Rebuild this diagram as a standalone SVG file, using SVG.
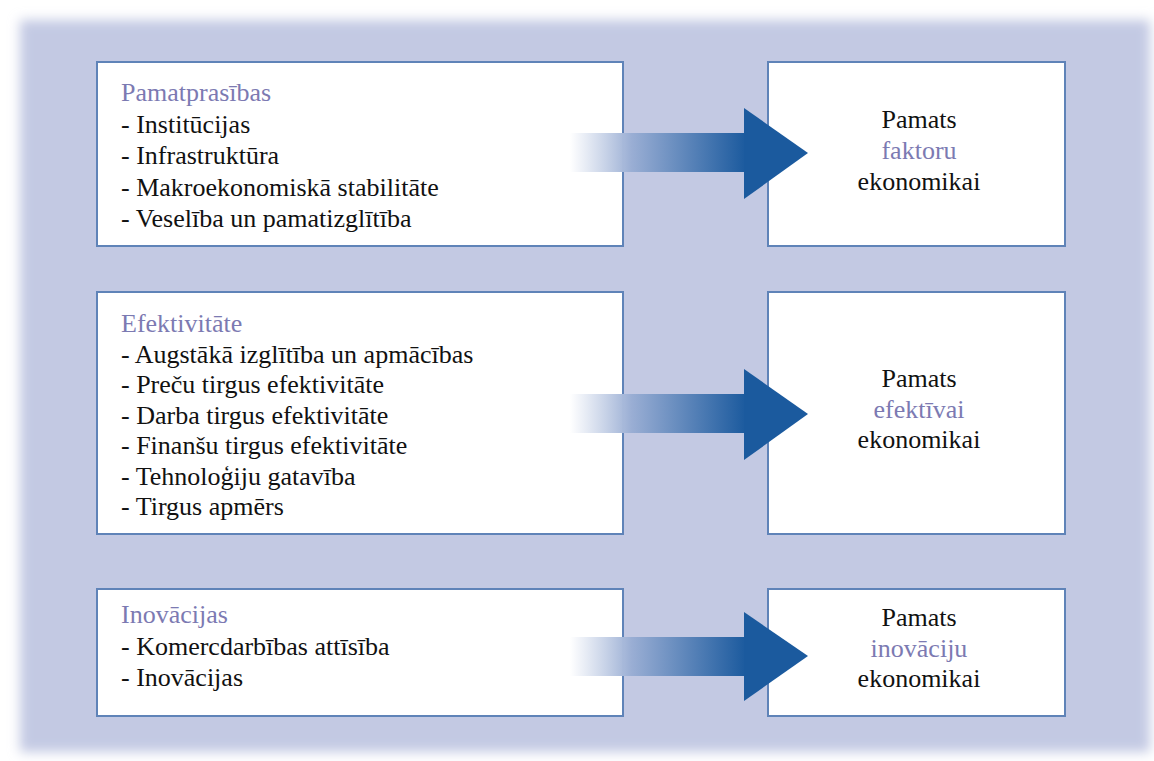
<svg xmlns="http://www.w3.org/2000/svg" width="1154" height="761" viewBox="0 0 1154 761">
<defs>
<filter id="soft" x="-5%" y="-5%" width="110%" height="110%"><feGaussianBlur stdDeviation="6"/></filter>
<linearGradient id="shaft" x1="0" y1="0" x2="1" y2="0">
<stop offset="0" stop-color="#ffffff" stop-opacity="0.9"/>
<stop offset="0.35" stop-color="#9aaed4"/>
<stop offset="1" stop-color="#1b5a9e"/>
</linearGradient>
</defs>
<rect width="1154" height="761" fill="#ffffff"/>
<rect x="20" y="20" width="1130" height="732" fill="#c3c9e3" filter="url(#soft)"/>
<g id="node-pamatprasibas">
<rect x="97" y="62" width="526" height="184" fill="#fff" stroke="#5f83b8" stroke-width="2"/>
<text x="121" y="101" style="font-family:'Liberation Serif','Times New Roman',serif;font-size:26px" fill="#7c7ab2">Pamatprasības</text>
<text x="121" y="132.5" style="font-family:'Liberation Serif','Times New Roman',serif;font-size:26px" fill="#111">- Institūcijas</text>
<text x="121" y="164" style="font-family:'Liberation Serif','Times New Roman',serif;font-size:26px" fill="#111">- Infrastruktūra</text>
<text x="121" y="195.5" style="font-family:'Liberation Serif','Times New Roman',serif;font-size:26px" fill="#111">- Makroekonomiskā stabilitāte</text>
<text x="121" y="227" style="font-family:'Liberation Serif','Times New Roman',serif;font-size:26px" fill="#111">- Veselība un pamatizglītība</text>
</g>
<g id="node-faktoru">
<rect x="768" y="62" width="297" height="184" fill="#fff" stroke="#5f83b8" stroke-width="2"/>
<text x="919" y="128" text-anchor="middle" style="font-family:'Liberation Serif','Times New Roman',serif;font-size:26px" fill="#111">Pamats</text>
<text x="919" y="159" text-anchor="middle" style="font-family:'Liberation Serif','Times New Roman',serif;font-size:26px" fill="#7c7ab2">faktoru</text>
<text x="919" y="190" text-anchor="middle" style="font-family:'Liberation Serif','Times New Roman',serif;font-size:26px" fill="#111">ekonomikai</text>
</g>
<g id="node-efektivitate">
<rect x="97" y="292" width="526" height="242" fill="#fff" stroke="#5f83b8" stroke-width="2"/>
<text x="121" y="332" style="font-family:'Liberation Serif','Times New Roman',serif;font-size:26px" fill="#7c7ab2">Efektivitāte</text>
<text x="121" y="362.5" style="font-family:'Liberation Serif','Times New Roman',serif;font-size:26px" fill="#111">- Augstākā izglītība un apmācības</text>
<text x="121" y="393" style="font-family:'Liberation Serif','Times New Roman',serif;font-size:26px" fill="#111">- Preču tirgus efektivitāte</text>
<text x="121" y="423.5" style="font-family:'Liberation Serif','Times New Roman',serif;font-size:26px" fill="#111">- Darba tirgus efektivitāte</text>
<text x="121" y="454" style="font-family:'Liberation Serif','Times New Roman',serif;font-size:26px" fill="#111">- Finanšu tirgus efektivitāte</text>
<text x="121" y="484.5" style="font-family:'Liberation Serif','Times New Roman',serif;font-size:26px" fill="#111">- Tehnoloģiju gatavība</text>
<text x="121" y="515" style="font-family:'Liberation Serif','Times New Roman',serif;font-size:26px" fill="#111">- Tirgus apmērs</text>
</g>
<g id="node-efektivai">
<rect x="768" y="292" width="297" height="242" fill="#fff" stroke="#5f83b8" stroke-width="2"/>
<text x="919" y="387" text-anchor="middle" style="font-family:'Liberation Serif','Times New Roman',serif;font-size:26px" fill="#111">Pamats</text>
<text x="919" y="417.5" text-anchor="middle" style="font-family:'Liberation Serif','Times New Roman',serif;font-size:26px" fill="#7c7ab2">efektīvai</text>
<text x="919" y="448" text-anchor="middle" style="font-family:'Liberation Serif','Times New Roman',serif;font-size:26px" fill="#111">ekonomikai</text>
</g>
<g id="node-inovacijas">
<rect x="97" y="589" width="526" height="127" fill="#fff" stroke="#5f83b8" stroke-width="2"/>
<text x="121" y="623" style="font-family:'Liberation Serif','Times New Roman',serif;font-size:26px" fill="#7c7ab2">Inovācijas</text>
<text x="121" y="654.5" style="font-family:'Liberation Serif','Times New Roman',serif;font-size:26px" fill="#111">- Komercdarbības attīsība</text>
<text x="121" y="686" style="font-family:'Liberation Serif','Times New Roman',serif;font-size:26px" fill="#111">- Inovācijas</text>
</g>
<g id="node-inovaciju">
<rect x="768" y="589" width="297" height="127" fill="#fff" stroke="#5f83b8" stroke-width="2"/>
<text x="919" y="626" text-anchor="middle" style="font-family:'Liberation Serif','Times New Roman',serif;font-size:26px" fill="#111">Pamats</text>
<text x="919" y="656.5" text-anchor="middle" style="font-family:'Liberation Serif','Times New Roman',serif;font-size:26px" fill="#7c7ab2">inovāciju</text>
<text x="919" y="687" text-anchor="middle" style="font-family:'Liberation Serif','Times New Roman',serif;font-size:26px" fill="#111">ekonomikai</text>
</g>
<g id="connectors">
<rect x="570" y="133" width="176" height="39" fill="url(#shaft)"/>
<polygon points="744,108 808,153 744,199" fill="#1b5a9e"/>
<rect x="570" y="394" width="176" height="39" fill="url(#shaft)"/>
<polygon points="744,369 808,414 744,460" fill="#1b5a9e"/>
<rect x="570" y="637" width="176" height="39" fill="url(#shaft)"/>
<polygon points="744,612 808,656 744,701" fill="#1b5a9e"/>
</g>
</svg>
